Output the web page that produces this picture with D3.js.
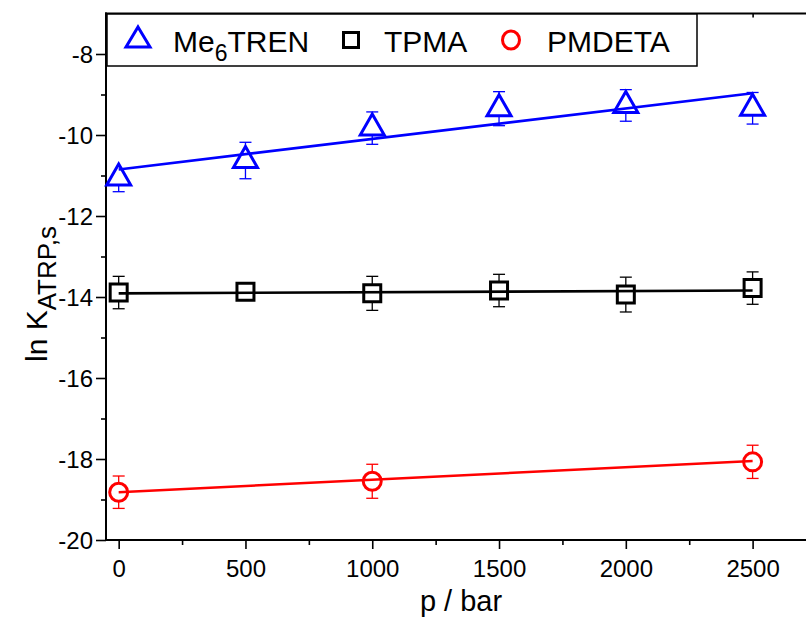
<!DOCTYPE html>
<html>
<head>
<meta charset="utf-8">
<script src="https://cdn.jsdelivr.net/npm/d3@7"></script>
<style>
  html, body { margin: 0; padding: 0; background: #fff; }
  svg { display: block; }
  text { font-family: Arial, "Liberation Sans", sans-serif; fill: #000; }
</style>
</head>
<body>
<svg id="chart" width="806" height="617"></svg>
<script>
// Pressure (bar) and ln K_ATRP,s for each ligand
const pMe6TREN = [0, 500, 1000, 1500, 2000, 2500];
const lnKMe6TREN = [-11.06, -10.63, -9.83, -9.35, -9.27, -9.34];
const errMe6TREN = [0.34, 0.45, 0.40, 0.42, 0.39, 0.39];
const fitMe6TREN = [-10.85, -8.97];

const pTPMA = [0, 500, 1000, 1500, 2000, 2500];
const lnKTPMA = [-13.89, -13.87, -13.91, -13.84, -13.94, -13.78];
const errTPMA = [0.40, 0.15, 0.42, 0.40, 0.43, 0.40];
const fitTPMA = [-13.91, -13.84];

const pPMDETA = [0, 1000, 2500];
const lnKPMDETA = [-18.82, -18.55, -18.07];
const errPMDETA = [0.40, 0.42, 0.41];
const fitPMDETA = [-18.82, -18.05];

const fitRange = [0, 2500];

const xMajorTicks = [0, 500, 1000, 1500, 2000, 2500];
const xMinorTicks = [250, 750, 1250, 1750, 2250];
const yMajorTicks = [-20, -18, -16, -14, -12, -10, -8];
const yMinorTicks = [-19, -17, -15, -13, -11, -9];

const svg = d3.select("#chart");

const x = d3.scaleLinear().domain([-50, 2750]).range([106, 816]);
const y = d3.scaleLinear().domain([-20, -7]).range([540, 13.5]);

const series = [
  { name: "Me6TREN", p: pMe6TREN, v: lnKMe6TREN, e: errMe6TREN, fit: fitMe6TREN, color: "#0000ff", shape: "triangle" },
  { name: "TPMA", p: pTPMA, v: lnKTPMA, e: errTPMA, fit: fitTPMA, color: "#000000", shape: "square" },
  { name: "PMDETA", p: pPMDETA, v: lnKPMDETA, e: errPMDETA, fit: fitPMDETA, color: "#ff0000", shape: "circle" }
];

// marker half-extents above / below the point (px)
function markerExtent(shape) {
  if (shape === "triangle") return { up: 14, down: 7 };
  if (shape === "square") return { up: 8.5, down: 8.5 };
  return { up: 9.5, down: 9.5 };
}

function markerPath(shape) {
  if (shape === "triangle") {
    // centroid at origin, apex up
    return "M0,-14L12,7L-12,7Z";
  }
  if (shape === "square") return "M-8.5,-8.5H8.5V8.5H-8.5Z";
  return null;
}

const plainNumber = d => String(d);

// axes frame
const gx = svg.append("g").attr("transform", "translate(0,540)");
gx.call(d3.axisBottom(x).tickValues(xMajorTicks).tickSize(9).tickPadding(11).tickFormat(plainNumber));
gx.append("g").call(d3.axisBottom(x).tickValues(xMinorTicks).tickSize(5).tickFormat(""));
gx.selectAll(".domain").remove();
gx.selectAll("text").attr("font-size", 24).attr("font-family", "Arial, 'Liberation Sans', sans-serif");

const gy = svg.append("g").attr("transform", "translate(106,0)");
gy.call(d3.axisLeft(y).tickValues(yMajorTicks).tickSize(10).tickPadding(3).tickFormat(plainNumber));
gy.append("g").call(d3.axisLeft(y).tickValues(yMinorTicks).tickSize(5).tickFormat(""));
gy.selectAll(".domain").remove();
gy.selectAll("text").attr("font-size", 24).attr("font-family", "Arial, 'Liberation Sans', sans-serif")
  .attr("dy", "0.36em");

const gt = svg.append("g").attr("transform", "translate(0,13.5)");
gt.call(d3.axisTop(x).tickValues(xMajorTicks.concat(xMinorTicks)).tickSize(-4).tickFormat(""));
gt.selectAll(".domain").remove();

svg.selectAll(".tick line").attr("stroke", "#000").attr("stroke-width", 1.6);

// frame lines
svg.append("line").attr("x1", 106).attr("x2", 106).attr("y1", 12.5).attr("y2", 541)
  .attr("stroke", "#000").attr("stroke-width", 2);
svg.append("line").attr("x1", 105).attr("x2", 806).attr("y1", 540).attr("y2", 540)
  .attr("stroke", "#000").attr("stroke-width", 2);
svg.append("line").attr("x1", 105).attr("x2", 806).attr("y1", 13.5).attr("y2", 13.5)
  .attr("stroke", "#000").attr("stroke-width", 2);

// fit lines
series.forEach(s => {
  svg.append("line")
    .attr("x1", x(fitRange[0])).attr("y1", y(s.fit[0]))
    .attr("x2", x(fitRange[1])).attr("y2", y(s.fit[1]))
    .attr("stroke", s.color).attr("stroke-width", 2.6);
});

// error bars (drawn outside the hollow markers) and markers
series.forEach(s => {
  const g = svg.append("g");
  const ext = markerExtent(s.shape);
  s.p.forEach((p, i) => {
    const cx = x(p), cy = y(s.v[i]);
    const top = y(s.v[i] + s.e[i]), bot = y(s.v[i] - s.e[i]);
    if (top < cy - ext.up) {
      g.append("line").attr("x1", cx).attr("x2", cx).attr("y1", cy - ext.up).attr("y2", top)
        .attr("stroke", s.color).attr("stroke-width", 1.3);
      g.append("line").attr("x1", cx - 6).attr("x2", cx + 6).attr("y1", top).attr("y2", top)
        .attr("stroke", s.color).attr("stroke-width", 1.3);
    }
    if (bot > cy + ext.down) {
      g.append("line").attr("x1", cx).attr("x2", cx).attr("y1", cy + ext.down).attr("y2", bot)
        .attr("stroke", s.color).attr("stroke-width", 1.3);
      g.append("line").attr("x1", cx - 6).attr("x2", cx + 6).attr("y1", bot).attr("y2", bot)
        .attr("stroke", s.color).attr("stroke-width", 1.3);
    }
    if (s.shape === "circle") {
      g.append("ellipse").attr("cx", cx).attr("cy", cy).attr("rx", 9).attr("ry", 9)
        .attr("fill", "none").attr("stroke", s.color).attr("stroke-width", 3);
    } else {
      g.append("path").attr("d", markerPath(s.shape)).attr("transform", `translate(${cx},${cy})`)
        .attr("fill", "none").attr("stroke", s.color).attr("stroke-width", 3)
        .attr("stroke-linejoin", "miter");
    }
  });
});

// legend
const lg = svg.append("g");
lg.append("rect").attr("x", 107).attr("y", 14).attr("width", 590).attr("height", 52)
  .attr("fill", "#fff").attr("stroke", "#000").attr("stroke-width", 1.5);

const legendItems = [
  { s: series[0], sx: 138, tx: 173 },
  { s: series[1], sx: 351, tx: 384 },
  { s: series[2], sx: 511, tx: 547 }
];
legendItems.forEach(it => {
  const cy = 40;
  if (it.s.shape === "circle") {
    lg.append("ellipse").attr("cx", it.sx).attr("cy", cy).attr("rx", 8.5).attr("ry", 9)
      .attr("fill", "none").attr("stroke", it.s.color).attr("stroke-width", 3);
  } else if (it.s.shape === "triangle") {
    lg.append("path").attr("d", "M0,-10L12,10L-12,10Z").attr("transform", `translate(${it.sx},${cy - 3})`)
      .attr("fill", "none").attr("stroke", it.s.color).attr("stroke-width", 3);
  } else {
    lg.append("path").attr("d", "M-7.5,-7.5H7.5V7.5H-7.5Z").attr("transform", `translate(${it.sx},${cy})`)
      .attr("fill", "none").attr("stroke", it.s.color).attr("stroke-width", 3);
  }
  const t = lg.append("text").attr("x", it.tx).attr("y", 52).attr("font-size", 30);
  if (it.s.name === "Me6TREN") {
    t.append("tspan").text("Me");
    t.append("tspan").attr("font-size", 23).attr("dy", 9).text("6");
    t.append("tspan").attr("dy", -9).text("TREN");
  } else {
    t.text(it.s.name);
  }
});

// axis titles
svg.append("text").attr("x", 461).attr("y", 611).attr("text-anchor", "middle")
  .attr("font-size", 29).text("p / bar");

const yl = svg.append("text").attr("transform", "translate(47,294) rotate(-90)")
  .attr("text-anchor", "middle").attr("font-size", 30);
yl.append("tspan").text("ln K");
yl.append("tspan").attr("font-size", 26).attr("dy", 9).text("ATRP,s");
</script>
</body>
</html>
